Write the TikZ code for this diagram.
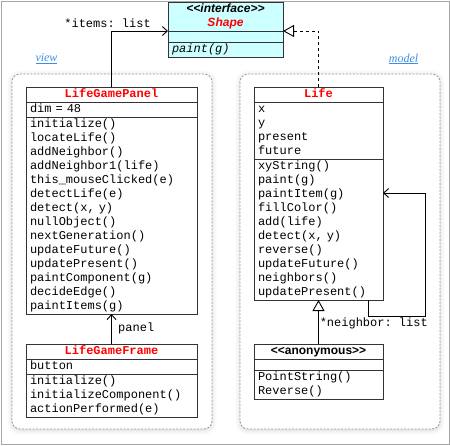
\documentclass[tikz,border=0pt]{standalone}
\usepackage{fontspec}
\setmonofont{Liberation Mono}
\newfontfamily\umlsans{Liberation Sans}
\newfontfamily\pkgserif{Liberation Serif}
\usetikzlibrary{positioning,arrows.meta,shadows.blur}

\definecolor{boxgray}{HTML}{333333}
\definecolor{ifacecyan}{HTML}{CCFFFF}
\definecolor{pkgblue}{HTML}{3C8FE8}
\definecolor{namered}{HTML}{FF0000}
\newcommand{\umlfont}{\fontsize{12}{14}\selectfont\ttfamily}

\tikzset{
  compart/.style={draw=boxgray, line width=1pt, outer sep=0pt, text width=#1,
    inner xsep=4pt, inner ysep=0.5pt, align=left, font=\umlfont,
    execute at begin node=\strut, execute at end node=\strut},
  classname/.style={compart=#1, align=center, font=\umlfont\bfseries, text=namered},
  emptypart/.style={draw=boxgray, line width=1pt, outer sep=0pt, minimum width=#1,
    minimum height=11pt, inner sep=0pt},
  pkg/.style={draw=gray!80, dash pattern=on 2pt off 1.5pt, line width=0.8pt,
    rounded corners=8pt, fill=white,
    blur shadow={shadow xshift=0pt, shadow yshift=-1pt, shadow blur radius=5pt, shadow opacity=18}},
  pkglabel/.style={font=\pkgserif\itshape\fontsize{12}{14}\selectfont, text=pkgblue, inner sep=0pt},
  assoc/.style={-{Straight Barb[length=5pt,width=9pt]}, line width=0.9pt},
  inherit/.style={-{Triangle[open,length=11pt,width=12pt]}, line width=0.9pt},
  lbl/.style={font=\umlfont, inner sep=0pt},
}

\begin{document}
\begin{tikzpicture}[x=1pt, y=-1pt]
\useasboundingbox (0,0) rectangle (450,445);
\draw[gray!70, line width=1pt] (1,1) rectangle (449,444); % outer frame

% packages
\draw[pkg] (12,74) rectangle (212,429);
\draw[pkg] (240,74) rectangle (440,429);
\node[pkglabel] (viewlbl) at (46.5,59) {\underline{view}};
\node[pkglabel] (modellbl) at (403.5,59) {\underline{model}};

% interface
\node[compart=107pt, fill=ifacecyan, align=center, anchor=north] (shape) at (225.5,2)
  {{\umlsans\bfseries\itshape <<interface>>}\\{\umlsans\bfseries\itshape\color{namered}Shape}};
\node[emptypart=115pt, fill=ifacecyan, below=0pt of shape] (shape-a) {};
\node[compart=107pt, fill=ifacecyan, below=0pt of shape-a] (shape-m) {\itshape paint(g)};

% view
\node[classname=163pt, anchor=north] (panel) at (111.5,87) {LifeGamePanel};
\node[compart=163pt, below=0pt of panel] (panel-a) {dim = 48};
\node[compart=163pt, below=0pt of panel-a] (panel-m) {initialize()\\locateLife()\\addNeighbor()\\
  addNeighbor1(life)\\this\_mouseClicked(e)\\detectLife(e)\\detect(x, y)\\nullObject()\\
  nextGeneration()\\updateFuture()\\updatePresent()\\paintComponent(g)\\decideEdge()\\paintItems(g)};

\node[classname=163pt, anchor=north] (frame) at (111.5,344) {LifeGameFrame};
\node[compart=163pt, below=0pt of frame] (frame-a) {button};
\node[compart=163pt, below=0pt of frame-a] (frame-m) {initialize()\\initializeComponent()\\actionPerformed(e)};

% model
\node[classname=121pt, anchor=north] (life) at (318.5,87) {Life};
\node[compart=121pt, below=0pt of life] (life-a) {x\\y\\present\\future};
\node[compart=121pt, below=0pt of life-a] (life-m) {xyString()\\paint(g)\\paintItem(g)\\fillColor()\\
  add(life)\\detect(x, y)\\reverse()\\updateFuture()\\neighbors()\\updatePresent()};

\node[compart=121pt, anchor=north, align=center, font=\umlsans\fontsize{12}{14}\selectfont\bfseries] (anon) at (318.5,344) {<<anonymous>>};
\node[emptypart=129pt, below=0pt of anon] (anon-a) {};
\node[compart=121pt, below=0pt of anon-a] (anon-m) {PointString()\\Reverse()};

% connectors
\draw[assoc] (panel.north) |- (shape.south west);
\node[lbl, anchor=east] (itemslbl) at (151,23) {*items: list};
\draw[inherit, dashed] (life.north) |- (shape.south east);
\draw[assoc] (frame.north) -- (panel-m.south);
\node[lbl, anchor=west] (panellbl) at (118,328) {panel};
\draw[inherit] (anon.north) -- (life-m.south);
\coordinate (selfloop) at (425,316);
\draw[assoc] ([xshift=-15pt]life-m.south east) |- (selfloop) |- ([yshift=36.5pt]life-m.east);
\node[lbl, anchor=east] (nbrlbl) at (428,323) {*neighbor: list};
\end{tikzpicture}
\end{document}
